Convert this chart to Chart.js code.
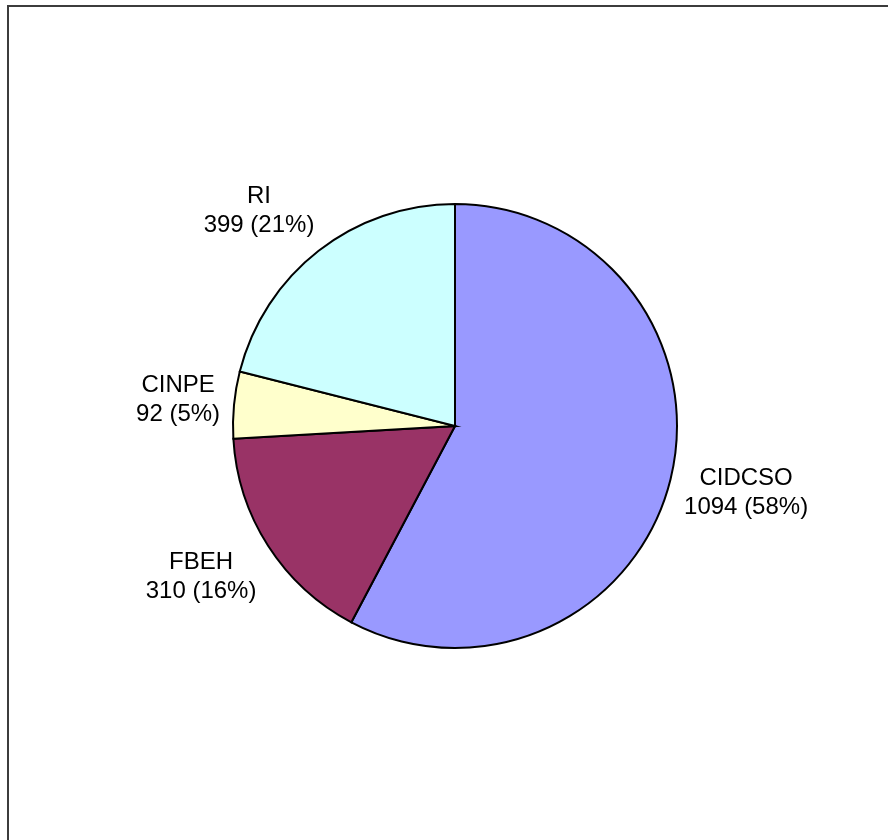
<!DOCTYPE html>
<html>
<head>
<meta charset="utf-8">
<script src="https://cdn.jsdelivr.net/npm/chart.js@4"></script>
<style>
  html, body { margin: 0; padding: 0; background: #fff; }
  body { width: 888px; height: 840px; overflow: hidden; position: relative; }
  #frame {
    position: absolute; left: 7px; top: 5px; width: 900px; height: 900px;
    border-left: 2px solid #3c3c3c; border-top: 2px solid #3c3c3c;
  }
  #wrap { position: absolute; left: 0; top: 0; width: 888px; height: 840px; }
</style>
</head>
<body>
<div id="frame"></div>
<div id="wrap"><canvas id="pie" width="888" height="840"></canvas></div>
<script>
// 데이터
const categories = ["CIDCSO", "FBEH", "CINPE", "RI"];
const counts = [1094, 310, 92, 399];
const sliceColors = ["#9999FF", "#993366", "#FFFFCC", "#CCFFFF"];

const total = counts.reduce((a, b) => a + b, 0);

// 라벨 상자를 방향에 따라 밀어내는 비율
function push(v) {
  return Math.max(-1, Math.min(1, v * 1.5));
}

// 조각 바깥쪽 라벨
const outsideLabels = {
  id: "outsideLabels",
  afterDatasetsDraw(chart) {
    const { ctx } = chart;
    const meta = chart.getDatasetMeta(0);
    const fontSize = 24;
    const lineHeight = 29;
    const gap = 14;

    ctx.save();
    ctx.font = `${fontSize}px "Liberation Sans", Arial, sans-serif`;
    ctx.fillStyle = "#000";
    ctx.textAlign = "center";
    ctx.textBaseline = "middle";

    meta.data.forEach((arc, i) => {
      const { x, y, startAngle, endAngle, outerRadius } = arc.getProps(
        ["x", "y", "startAngle", "endAngle", "outerRadius"], true);
      const mid = (startAngle + endAngle) / 2;
      const dx = Math.cos(mid);
      const dy = Math.sin(mid);
      const pct = Math.round((counts[i] / total) * 100);
      const lines = [categories[i], `${counts[i]} (${pct}%)`];
      const w = Math.max(...lines.map((t) => ctx.measureText(t).width));
      const h = lines.length * lineHeight;
      const cx = x + (outerRadius + gap) * dx + push(dx) * w / 2;
      const cy = y + (outerRadius + gap) * dy + push(dy) * h / 2;
      lines.forEach((t, k) => {
        ctx.fillText(t, cx, cy - h / 2 + lineHeight * (k + 0.5));
      });
    });
    ctx.restore();
  },
};

new Chart(document.getElementById("pie").getContext("2d"), {
  type: "pie",
  data: {
    labels: categories,
    datasets: [
      {
        data: counts,
        backgroundColor: sliceColors,
        borderColor: "#000",
        borderWidth: 2,
        borderJoinStyle: "miter",
      },
    ],
  },
  options: {
    responsive: false,
    animation: false,
    radius: 222,
    layout: { padding: { left: 22, right: 0, top: 12, bottom: 0 } },
    plugins: {
      legend: { display: false },
      tooltip: { enabled: false },
    },
  },
  plugins: [outsideLabels],
});
</script>
</body>
</html>
